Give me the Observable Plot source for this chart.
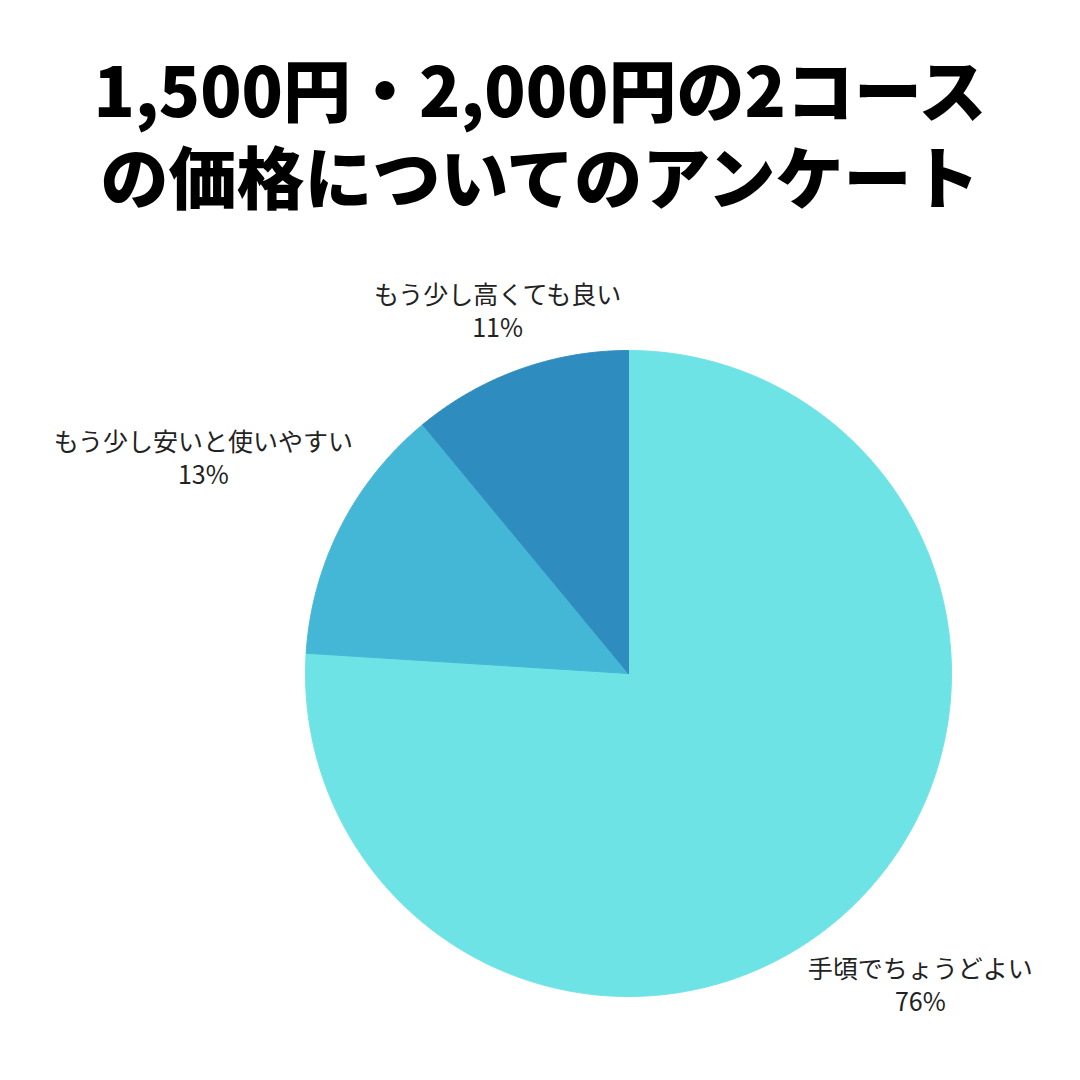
<!DOCTYPE html>
<html><head><meta charset="utf-8">
<script src="https://cdn.jsdelivr.net/npm/d3@7"></script>
<script src="https://cdn.jsdelivr.net/npm/@observablehq/plot@0.6"></script>
<style>
body{margin:0;background:#fff;width:1080px;height:1080px;overflow:hidden;font-family:"Noto Sans CJK JP",sans-serif;}
#title{height:250px;box-sizing:border-box;padding-top:52px;text-align:center;font-size:68px;font-weight:900;color:#000;}
#title div{height:87px;line-height:72px;white-space:nowrap;}
#chart svg{display:block;}
</style></head><body>
<div id="title"><div>1,500円・2,000円の2コース</div><div>の価格についてのアンケート</div></div>
<div id="chart"></div>
<script>
// ---- data ----
const categories = ["手頃でちょうどよい", "もう少し安いと使いやすい", "もう少し高くても良い"];
const values = [76, 13, 11];
const colors = ["#6de3e6", "#45b7d6", "#2e8dbe"];

// ---- layout constants ----
const W = 1080, H = 830;
const CX = 628, CY = 423, R = 323;
const FONT = "'Noto Sans CJK JP', 'Noto Sans', sans-serif";
const FS = 25, LH = 1.3;

const data = categories.map((c, i) => ({label: c, value: values[i]}));
const arcs = d3.pie().sort(null).value(d => d.value)(data);

// slice polygons (unit radius, y up)
const pts = [];
for (const a of arcs) {
  const n = Math.ceil((a.endAngle - a.startAngle) / 0.005);
  pts.push({label: a.data.label, x: 0, y: 0});
  for (let i = 0; i <= n; i++) {
    const t = a.startAngle + (a.endAngle - a.startAngle) * i / n;
    pts.push({label: a.data.label, x: Math.sin(t), y: Math.cos(t)});
  }
  pts.push({label: a.data.label, x: 0, y: 0});
}

// label positions: box centred on the mid-angle ray, nearest corner just outside the pie
const ctx = document.createElement("canvas").getContext("2d");
ctx.font = `400 ${FS}px ${FONT}`;
const labels = arcs.map(a => {
  const text = `${a.data.label}\n${a.data.value}%`;
  const w = Math.max(...text.split("\n").map(s => ctx.measureText(s).width));
  const hw = w / 2, hh = FS * LH;
  const mid = (a.startAngle + a.endAngle) / 2;
  const ux = Math.sin(mid), uy = -Math.cos(mid);
  const D = R * 1.025;
  let lo = 0, hi = 2000;
  for (let k = 0; k < 60; k++) {
    const t = (lo + hi) / 2;
    const cx = t * ux, cy = t * uy;
    const px = Math.max(cx - hw, Math.min(0, cx + hw));
    const py = Math.max(cy - hh, Math.min(0, cy + hh));
    if (Math.hypot(px, py) < D) lo = t; else hi = t;
  }
  return {text, x: lo * ux / R, y: -lo * uy / R};
});

const chart = Plot.plot({
  width: W, height: H, margin: 0,
  x: {domain: [-CX / R, (W - CX) / R], axis: null},
  y: {domain: [-(H - CY) / R, CY / R], axis: null},
  color: {domain: categories, range: colors},
  style: {background: "transparent", fontFamily: FONT},
  marks: [
    Plot.line(pts, {x: "x", y: "y", z: "label", fill: "label", stroke: "label", strokeWidth: 1, curve: "linear"}),
    Plot.text(labels, {x: "x", y: "y", text: "text", fontSize: FS, lineHeight: LH, fill: "#222", fontWeight: 400})
  ]
});
document.getElementById("chart").append(chart);
</script>
</body></html>
